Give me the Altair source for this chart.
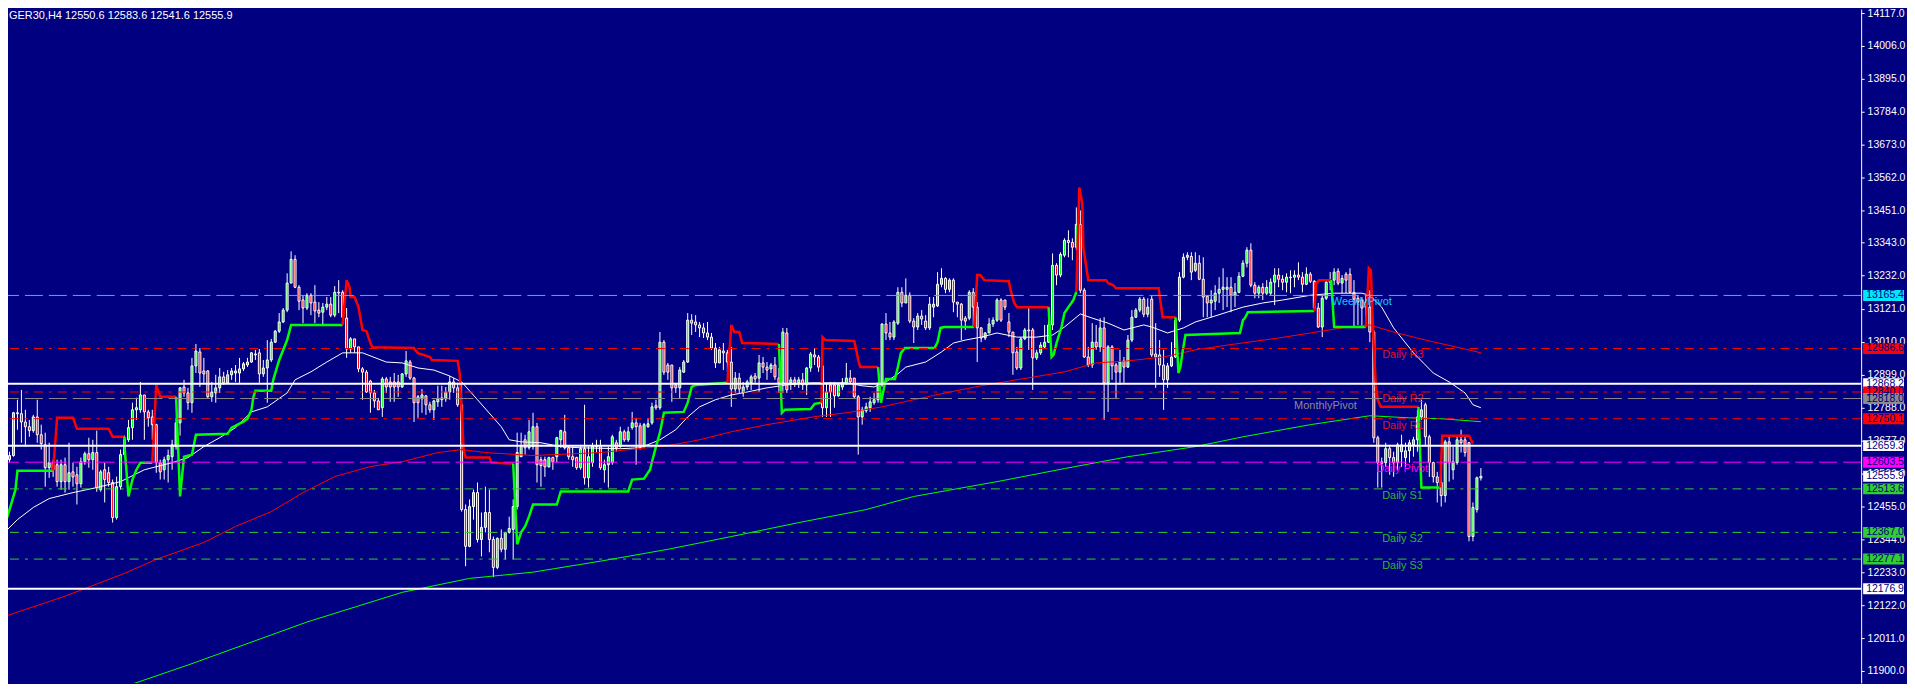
import altair as alt
import pandas as pd

# ---------------- data ----------------
symbol = "GER30"
timeframe = "H4"

opens = [
12585, 12612, 12626, 12767, 12767, 12739, 12723, 12710, 12756, 12696,
12662, 12585, 12602, 12595, 12538, 12595, 12538, 12571, 12561, 12531,
12605, 12632, 12612, 12636, 12511, 12578, 12568, 12535, 12417, 12521,
12629, 12679, 12720, 12780, 12780, 12830, 12773, 12756, 12730, 12602,
12578, 12612, 12622, 12656, 12736, 12857, 12837, 12804, 12928, 12975,
12911, 12911, 12824, 12837, 12854, 12891, 12871, 12898, 12904, 12904,
12918, 12931, 12941, 12968, 12972, 12901, 12921, 12948, 13008, 13045,
13076, 13116, 13207, 13287, 13193, 13150, 13123, 13166, 13143, 13116,
13109, 13126, 13136, 13099, 13176, 13176, 13089, 12985, 13019, 12992,
12918, 12907, 12877, 12837, 12810, 12787, 12884, 12874, 12874, 12874,
12857, 12901, 12941, 12887, 12824, 12817, 12827, 12797, 12780, 12807,
12814, 12817, 12840, 12874, 12854, 12797, 12444, 12320, 12454, 12501,
12343, 12384, 12434, 12343, 12249, 12347, 12310, 12367, 12377, 12454,
12622, 12679, 12652, 12656, 12723, 12612, 12612, 12588, 12619, 12622,
12679, 12706, 12652, 12622, 12619, 12585, 12649, 12551, 12602, 12656,
12656, 12578, 12595, 12602, 12669, 12656, 12706, 12679, 12720, 12736,
12726, 12656, 12723, 12736, 12794, 12787, 13008, 12931, 12931, 12864,
12854, 12907, 12941, 13082, 13076, 13066, 13056, 13039, 13025, 12988,
12938, 12978, 12972, 12941, 12850, 12887, 12837, 12857, 12871, 12894,
12887, 12938, 12924, 12918, 12931, 12887, 12871, 13039, 12871, 12881,
12871, 12881, 12864, 12921, 12965, 12958, 12928, 12787, 12864, 12864,
12827, 12857, 12871, 12887, 12887, 12824, 12756, 12777, 12787, 12804,
12814, 12864, 13069, 13039, 13025, 13072, 13176, 13140, 13166, 13079,
13059, 13096, 13079, 13056, 13126, 13130, 13203, 13223, 13186, 13217,
13143, 13136, 13089, 13089, 13176, 13126, 13056, 13022, 13039, 13069,
13082, 13150, 13150, 13076, 13042, 12975, 12921, 13019, 13049, 13049,
12955, 12972, 12992, 13008, 13066, 13267, 13234, 13301, 13351, 13344,
13328, 13405, 13183, 12958, 12931, 13008, 12992, 13056, 12871, 12992,
12931, 12907, 12945, 12924, 13015, 13092, 13116, 13153, 13102, 13153,
12968, 12965, 12931, 12881, 12928, 12958, 13082, 13227, 13294, 13297,
13250, 13274, 13220, 13163, 13140, 13146, 13173, 13186, 13186, 13193,
13166, 13176, 13230, 13274, 13318, 13200, 13173, 13193, 13173, 13173,
13210, 13234, 13220, 13210, 13227, 13227, 13234, 13227, 13203, 13237,
13213, 13123, 13059, 13156, 13210, 13217, 13247, 13207, 13237, 13237,
13176, 13156, 13150, 13143, 13126, 13042, 12686, 12605, 12602, 12649,
12619, 12602, 12639, 12619, 12642, 12662, 12679, 12756, 12797, 12689,
12602, 12554, 12535, 12491, 12672, 12578, 12602, 12679, 12679, 12669,
12353, 12444, 12550.6]

highs = [
12595, 12639, 12773, 12814, 12847, 12780, 12746, 12763, 12814, 12730,
12703, 12669, 12612, 12612, 12612, 12619, 12669, 12602, 12588, 12619,
12639, 12686, 12679, 12710, 12578, 12602, 12588, 12545, 12555, 12646,
12693, 12746, 12804, 12821, 12874, 12830, 12780, 12780, 12733, 12612,
12622, 12646, 12679, 12753, 12857, 12881, 12854, 12955, 13002, 12988,
12955, 12914, 12874, 12898, 12921, 12908, 12914, 12921, 12931, 12955,
12941, 12955, 12975, 12982, 12985, 12948, 13015, 13019, 13049, 13106,
13123, 13240, 13314, 13301, 13200, 13166, 13173, 13173, 13200, 13143,
13140, 13160, 13160, 13197, 13217, 13183, 13123, 13025, 13019, 12992,
12924, 12914, 12881, 12847, 12820, 12891, 12891, 12891, 12904, 12898,
12904, 12978, 12948, 12891, 12830, 12850, 12830, 12807, 12814, 12861,
12861, 12857, 12894, 12887, 12871, 12871, 12461, 12478, 12511, 12535,
12434, 12521, 12511, 12353, 12350, 12377, 12367, 12420, 12478, 12703,
12703, 12696, 12746, 12770, 12736, 12622, 12622, 12622, 12622, 12689,
12713, 12763, 12656, 12656, 12622, 12662, 12797, 12656, 12669, 12679,
12679, 12612, 12656, 12696, 12679, 12723, 12713, 12723, 12773, 12753,
12736, 12736, 12753, 12804, 12814, 13042, 13015, 12938, 12931, 12871,
12924, 12948, 13106, 13102, 13099, 13076, 13072, 13076, 13039, 13005,
12992, 13005, 12982, 12992, 12907, 12904, 12874, 12881, 12898, 12904,
12965, 12958, 12941, 12938, 12958, 12921, 13056, 13056, 12891, 12891,
12891, 12904, 12924, 12975, 12988, 12965, 12931, 12871, 12874, 12874,
12871, 12887, 12938, 12914, 12887, 12830, 12790, 12804, 12824, 12837,
12874, 13072, 13106, 13076, 13082, 13193, 13193, 13223, 13176, 13089,
13106, 13116, 13099, 13160, 13160, 13244, 13257, 13227, 13223, 13223,
13143, 13140, 13096, 13183, 13190, 13143, 13059, 13042, 13089, 13092,
13156, 13156, 13150, 13106, 13042, 12992, 13025, 13056, 13126, 13056,
12982, 13008, 13066, 13082, 13307, 13274, 13311, 13358, 13385, 13358,
13462, 13452, 13190, 12992, 13072, 13066, 13089, 13092, 12998, 12998,
12938, 12982, 12958, 13032, 13116, 13123, 13160, 13160, 13156, 13166,
13072, 13015, 12982, 12938, 13008, 13089, 13244, 13307, 13311, 13311,
13311, 13301, 13294, 13166, 13183, 13200, 13227, 13257, 13227, 13227,
13207, 13244, 13284, 13328, 13341, 13210, 13200, 13207, 13217, 13223,
13257, 13257, 13234, 13240, 13250, 13250, 13277, 13244, 13260, 13244,
13217, 13140, 13166, 13217, 13244, 13257, 13257, 13234, 13244, 13257,
13217, 13166, 13160, 13166, 13183, 13049, 12693, 12619, 12669, 12662,
12639, 12669, 12696, 12669, 12679, 12689, 12780, 12814, 12804, 12696,
12605, 12571, 12578, 12679, 12689, 12656, 12689, 12713, 12689, 12672,
12468, 12555, 12583.6]

lows = [
12561, 12602, 12622, 12713, 12669, 12656, 12689, 12703, 12669, 12646,
12521, 12551, 12554, 12521, 12511, 12501, 12511, 12521, 12461, 12518,
12595, 12585, 12578, 12504, 12504, 12468, 12521, 12400, 12410, 12511,
12622, 12672, 12679, 12746, 12770, 12679, 12723, 12679, 12568, 12545,
12545, 12535, 12578, 12646, 12693, 12824, 12780, 12770, 12904, 12857,
12871, 12820, 12807, 12804, 12837, 12864, 12867, 12881, 12874, 12871,
12911, 12924, 12938, 12948, 12871, 12891, 12804, 12941, 13005, 13039,
13072, 13109, 13207, 13190, 13116, 13072, 13116, 13099, 13072, 13092,
13062, 13116, 13092, 13092, 13106, 13089, 12955, 12972, 12972, 12907,
12814, 12837, 12770, 12787, 12780, 12756, 12837, 12807, 12807, 12824,
12854, 12891, 12881, 12739, 12753, 12770, 12763, 12770, 12746, 12790,
12790, 12807, 12814, 12837, 12790, 12437, 12253, 12317, 12410, 12333,
12286, 12367, 12300, 12216, 12243, 12300, 12276, 12363, 12276, 12444,
12622, 12629, 12646, 12646, 12535, 12521, 12554, 12585, 12578, 12602,
12652, 12646, 12612, 12588, 12578, 12578, 12528, 12518, 12588, 12636,
12578, 12535, 12518, 12595, 12639, 12652, 12672, 12672, 12713, 12595,
12646, 12652, 12720, 12730, 12780, 12780, 12898, 12881, 12807, 12837,
12820, 12904, 12938, 13032, 13042, 13025, 13022, 13015, 12982, 12921,
12938, 12914, 12907, 12790, 12837, 12837, 12824, 12847, 12847, 12871,
12840, 12904, 12881, 12904, 12881, 12837, 12837, 12837, 12847, 12857,
12854, 12847, 12830, 12908, 12931, 12908, 12756, 12756, 12756, 12787,
12824, 12847, 12864, 12871, 12820, 12629, 12730, 12770, 12773, 12797,
12804, 12857, 13015, 13015, 13015, 13066, 13126, 13140, 13072, 13005,
13049, 13066, 13049, 13049, 13092, 13126, 13193, 13173, 13176, 13109,
13092, 13015, 13049, 13082, 13059, 12941, 13008, 13015, 13039, 13059,
13076, 13076, 13116, 13025, 12898, 12914, 12914, 13015, 12982, 12847,
12948, 12965, 12988, 13005, 13049, 13200, 13227, 13294, 13294, 13284,
13318, 13173, 12955, 12924, 12921, 12982, 12975, 12746, 12773, 12881,
12820, 12864, 12871, 12921, 13008, 13089, 13109, 13092, 13092, 12958,
12854, 12891, 12780, 12854, 12924, 12955, 13076, 13223, 13284, 13217,
13244, 13217, 13092, 13092, 13092, 13116, 13140, 13116, 13126, 13109,
13126, 13173, 13227, 13260, 13193, 13156, 13156, 13150, 13166, 13166,
13133, 13193, 13183, 13176, 13173, 13193, 13217, 13176, 13200, 13207,
13116, 13056, 13025, 13150, 13183, 13200, 13200, 13173, 13173, 13173,
13059, 13066, 13059, 13082, 13008, 12669, 12518, 12518, 12588, 12561,
12554, 12578, 12588, 12588, 12602, 12622, 12639, 12746, 12656, 12554,
12535, 12468, 12454, 12468, 12538, 12545, 12595, 12636, 12622, 12337,
12337, 12434, 12541.6]

closes = [
12578, 12626, 12770, 12770, 12739, 12723, 12710, 12756, 12696, 12666,
12585, 12602, 12578, 12538, 12595, 12538, 12568, 12554, 12531, 12605,
12632, 12612, 12636, 12518, 12571, 12545, 12535, 12417, 12521, 12629,
12679, 12720, 12780, 12787, 12830, 12773, 12753, 12730, 12602, 12571,
12612, 12626, 12662, 12736, 12854, 12837, 12804, 12928, 12978, 12904,
12901, 12824, 12840, 12854, 12891, 12871, 12898, 12911, 12911, 12918,
12935, 12941, 12972, 12965, 12901, 12921, 12948, 13008, 13045, 13076,
13116, 13207, 13287, 13193, 13146, 13123, 13166, 13140, 13113, 13106,
13126, 13136, 13099, 13176, 13174, 13092, 12985, 13019, 12992, 12918,
12907, 12840, 12837, 12810, 12780, 12884, 12857, 12857, 12857, 12857,
12901, 12945, 12887, 12804, 12804, 12830, 12797, 12780, 12810, 12817,
12820, 12840, 12874, 12854, 12797, 12444, 12320, 12454, 12501, 12343,
12384, 12434, 12343, 12249, 12347, 12310, 12367, 12380, 12454, 12636,
12656, 12652, 12706, 12723, 12595, 12592, 12588, 12619, 12605, 12686,
12710, 12652, 12622, 12612, 12585, 12649, 12551, 12622, 12656, 12659,
12585, 12595, 12622, 12689, 12652, 12706, 12679, 12706, 12736, 12723,
12656, 12730, 12733, 12790, 12787, 13008, 12907, 12907, 12854, 12854,
12914, 12941, 13082, 13072, 13066, 13056, 13039, 13025, 12988, 12938,
12982, 12972, 12941, 12850, 12887, 12850, 12857, 12874, 12891, 12884,
12938, 12924, 12914, 12931, 12891, 12871, 13042, 12847, 12881, 12871,
12881, 12864, 12921, 12968, 12958, 12924, 12787, 12840, 12840, 12827,
12864, 12871, 12887, 12874, 12824, 12756, 12780, 12790, 12807, 12814,
12864, 13069, 13039, 13025, 13076, 13176, 13140, 13166, 13079, 13059,
13096, 13086, 13056, 13136, 13136, 13203, 13223, 13186, 13217, 13143,
13136, 13082, 13079, 13176, 13126, 13056, 13022, 13039, 13069, 13082,
13150, 13082, 13126, 13042, 12972, 12921, 13019, 13049, 13046, 12955,
12972, 12998, 13008, 13066, 13267, 13234, 13304, 13351, 13344, 13328,
13405, 13183, 12958, 12931, 13008, 12992, 13056, 12871, 12992, 12928,
12907, 12941, 12924, 13015, 13092, 13116, 13153, 13102, 13126, 12965,
12958, 12931, 12881, 12928, 12958, 13082, 13227, 13294, 13301, 13244,
13274, 13220, 13160, 13140, 13150, 13173, 13186, 13193, 13193, 13166,
13176, 13230, 13274, 13318, 13200, 13173, 13193, 13173, 13193, 13210,
13234, 13220, 13210, 13227, 13225, 13234, 13227, 13203, 13237, 13213,
13123, 13059, 13156, 13210, 13217, 13244, 13207, 13223, 13217, 13176,
13153, 13143, 13123, 13126, 13042, 12686, 12602, 12600, 12649, 12619,
12602, 12662, 12662, 12642, 12669, 12679, 12756, 12780, 12689, 12602,
12554, 12535, 12491, 12672, 12602, 12605, 12679, 12669, 12636, 12353,
12451, 12551, 12555.9]

# moving averages: (bar index, price)
ma_white_idx = [0, 3, 7, 11, 17, 23, 29, 35, 42, 46, 50, 54, 58, 62, 66, 71, 73, 77, 81, 85,
                90, 96, 100, 104, 108, 112, 115, 119, 125, 127, 130, 135, 140, 145, 155, 160,
                165, 169, 172, 175, 179, 183, 187, 192, 197, 203, 212, 216, 219, 222, 225, 227,
                232, 236, 239, 242, 246, 250, 255, 260, 264, 267, 271, 274, 278, 282, 287, 289,
                293, 297, 300, 304, 308, 312, 317, 322, 329, 335, 342, 344, 347, 350, 355, 360,
                364, 368, 370, 372]
ma_white_val = [12370, 12410, 12451, 12481, 12501, 12518, 12538, 12578, 12602, 12619, 12656,
                12686, 12720, 12773, 12790, 12837, 12881, 12908, 12941, 12972, 12972, 12941,
                12938, 12921, 12914, 12894, 12874, 12814, 12723, 12679, 12672, 12669, 12656,
                12652, 12649, 12652, 12679, 12713, 12756, 12790, 12814, 12830, 12840, 12854,
                12864, 12871, 12871, 12861, 12857, 12874, 12901, 12924, 12941, 12975, 13005,
                13015, 13025, 13039, 13025, 13025, 13032, 13059, 13103, 13089, 13072, 13049,
                13066, 13059, 13039, 13056, 13076, 13092, 13109, 13126, 13140, 13150, 13166,
                13173, 13173, 13166, 13126, 13056, 12972, 12904, 12874, 12837, 12797, 12787]

ma_red_idx = [0, 15, 30, 38, 50, 58, 67, 75, 83, 92, 100, 109, 115, 121, 133, 150, 167, 175,
              183, 192, 204, 212, 221, 229, 237, 246, 258, 267, 275, 283, 292, 300, 308, 321,
              329, 337, 344, 350, 358, 367, 372]
ma_red_val = [12085, 12152, 12229, 12276, 12333, 12387, 12437, 12501, 12555, 12589, 12605,
              12636, 12646, 12636, 12626, 12636, 12659, 12679, 12706, 12730, 12757, 12770,
              12790, 12814, 12837, 12861, 12888, 12908, 12938, 12945, 12958, 12982, 12998,
              13022, 13039, 13056, 13066, 13042, 13015, 12988, 12972]

ma_green_idx = [21, 46, 76, 100, 117, 133, 150, 167, 183, 200, 217, 229, 250, 267, 283, 300,
                312, 329, 344, 354, 362, 372]
ma_green_val = [11806, 11920, 12065, 12165, 12212, 12233, 12270, 12310, 12353, 12400, 12444,
                12488, 12538, 12582, 12622, 12656, 12689, 12730, 12760, 12753, 12750, 12740]

# trailing-stop step line: segments of (bar index, price); colour alternates
trend_colors = ["#00FF00", "#FF0000"]
trend_segments = [
    [(0, 12400), (1, 12444), (2.5, 12511), (3, 12575), (12, 12575)],
    [(12, 12575), (13, 12753), (17, 12753), (18, 12716), (26, 12716), (27, 12689), (30, 12689)],
    [(30, 12689), (30, 12656), (31, 12488), (32, 12545), (33, 12578), (34, 12602), (37, 12602)],
    [(37, 12602), (38, 12864), (39, 12824), (43, 12824)],
    [(43, 12824), (44, 12488), (45, 12622), (47, 12629), (48, 12696), (56, 12699), (57, 12720),
     (60, 12740), (61, 12750), (62, 12780), (62.5, 12824), (63, 12844), (67, 12844), (67.5, 12881),
     (69, 12948), (71, 13015), (72, 13066), (85, 13066)],
    [(85, 13066), (86, 13217), (86.75, 13193), (87, 13160), (88, 13160), (89, 13126), (90, 13049),
     (91, 13045), (92, 13005), (92.5, 12991), (103, 12988), (103.25, 12982), (104, 12971),
     (107, 12958), (107.5, 12948), (114, 12945), (114.5, 12904), (115.5, 12646), (116, 12619),
     (122, 12619), (122.5, 12602), (128, 12599)],
    [(128, 12599), (129, 12327), (130, 12367), (131, 12387), (132, 12421), (133, 12461),
     (139, 12461), (140, 12505), (157, 12505), (158, 12545), (161, 12548), (162.5, 12578),
     (163, 12605), (164, 12656), (165, 12703), (166, 12770), (171, 12773), (172, 12804),
     (173, 12857), (174, 12864), (182, 12871)],
    [(182, 12871), (183, 13066), (183.75, 13042), (185, 13042), (185.75, 13005), (195, 13002)],
    [(195, 13002), (195.75, 12770), (196.5, 12780), (203, 12783), (204, 12800), (205.75, 12804)],
    [(205.75, 12804), (206, 13025), (206.75, 13015), (214, 13012), (214.5, 12982), (215, 12948),
     (215.5, 12924), (220, 12924)],
    [(220, 12924), (220.75, 12804), (221.75, 12871), (222, 12884), (224.25, 12884), (225, 12924),
     (225.75, 12971), (226.75, 12988), (234.25, 12988), (235, 13008), (235.75, 13056),
     (236.75, 13059), (244.25, 13059)],
    [(244.25, 13059), (245, 13234), (245.75, 13234), (246.75, 13217), (253, 13213),
     (253.25, 13193), (254.25, 13143), (255, 13126), (263, 13126)],
    [(263, 13126), (263.75, 12958), (264.25, 12965), (265, 13005), (266.25, 13059), (267, 13106),
     (268, 13126), (268.75, 13140), (269.25, 13150), (270, 13177)],
    [(270, 13177), (270.75, 13529), (271.5, 13475), (271.75, 13328), (272.25, 13284),
     (273, 13217), (277.5, 13217), (278, 13207), (279.25, 13200), (280, 13190), (290.75, 13190),
     (291.25, 13140), (291.75, 13092), (295, 13092)],
    [(295, 13092), (295.75, 12904), (296.25, 12925), (296.75, 12972), (297.5, 13032),
     (311.25, 13039), (312, 13082), (312.5, 13089), (313.25, 13109), (330, 13113)],
    [(330, 13113), (330.5, 13207), (331.25, 13217), (334.25, 13217)],
    [(334.25, 13217), (335, 13059), (343, 13059)],
    [(343, 13059), (343.75, 13257), (344.25, 13250), (344.5, 13160), (345, 12992), (345.5, 12864),
     (346, 12814), (346.75, 12790), (356.25, 12790)],
    [(356.25, 12790), (357, 12518), (361.75, 12518)],
    [(361.75, 12518), (362.25, 12693), (369, 12693), (370, 12666)],
]

# horizontal levels
level_prices = [13165.4, 12986.6, 12868.2, 12840.0, 12818.0, 12750.1, 12659.3, 12603.5,
                12513.6, 12367.0, 12277.1, 12176.9]
level_names = ["WeeklyPivot", "Daily R3", "", "Daily R2", "MonthlyPivot", "Daily R1", "",
               "Daily Pivot", "Daily S1", "Daily S2", "Daily S3", ""]
level_styles = ["dash", "dashdot", "solid", "dashdot", "dash", "dashdot", "solid", "dash",
                "dashdot", "dashdot", "dashdot", "solid"]
level_colors = ["#14C8FF", "#FF0000", "#FFFFFF", "#FF0000", "#8C8C8C", "#FF0000", "#FFFFFF",
                "#FF00FF", "#32CD32", "#32CD32", "#32CD32", "#FFFFFF"]
label_idx = [334.4, 347.1, 0, 347.1, 324.9, 347.1, 0, 345.6, 347.1, 347.1, 347.1, 0]
label_colors = ["#14C8FF", "#E8101E", "", "#E8101E", "#8C8C8C", "#E8101E", "", "#FF00FF",
                "#2FB82F", "#2FB82F", "#2FB82F", ""]

# price tags on the right scale
tag_prices = [13165.4, 12986.6, 12868.2, 12840.0, 12818.0, 12750.1, 12659.3, 12603.5,
              12555.9, 12513.6, 12367.0, 12277.1, 12176.9]
tag_colors = ["#00E6FF", "#FF0000", "#FFFFFF", "#FF0000", "#8C8C8C", "#FF0000", "#FFFFFF",
              "#FF00FF", "#FFFFFF", "#32CD32", "#32CD32", "#32CD32", "#FFFFFF"]

tick_values = [14117, 14006, 13895, 13784, 13673, 13562, 13451, 13343, 13232, 13121, 13010,
               12899, 12788, 12677, 12566, 12455, 12344, 12233, 12122, 12011, 11900]

# ---------------- frames ----------------
n = min(len(opens), len(highs), len(lows), len(closes))
candles = pd.DataFrame({
    "idx": list(range(n)),
    "open": opens[:n], "high": highs[:n], "low": lows[:n], "close": closes[:n],
})
candles["col"] = ["#00FF00" if c >= o else "#FF0000" for o, c in zip(candles["open"], candles["close"])]

ma_rows = []
for name, col, ii, vv in [("white", "#FFFFFF", ma_white_idx, ma_white_val),
                          ("red", "#FF0000", ma_red_idx, ma_red_val),
                          ("green", "#00FF00", ma_green_idx, ma_green_val)]:
    for k, (a, b) in enumerate(zip(ii, vv)):
        ma_rows.append({"idx": a, "val": b, "name": name, "col": col, "ord": k})
ma_df = pd.DataFrame(ma_rows)

tr_rows = []
for s, seg in enumerate(trend_segments):
    col = trend_colors[s % 2]
    for k, (a, b) in enumerate(seg):
        tr_rows.append({"idx": a, "val": b, "seg": s, "col": col, "ord": k})
tr_df = pd.DataFrame(tr_rows)

lv_df = pd.DataFrame({"price": level_prices, "name": level_names, "style": level_styles,
                      "col": level_colors, "lidx": label_idx, "lcol": label_colors})
txt_df = lv_df[lv_df["name"] != ""]

tag_df = pd.DataFrame({"price": tag_prices, "col": tag_colors})
tag_df["label"] = [f"{p:.1f}" for p in tag_prices]

title_df = pd.DataFrame({"t": [f"{symbol},{timeframe}  {opens[n-1]:.1f} {highs[n-1]:.1f} "
                               f"{lows[n-1]:.1f} {closes[n-1]:.1f}"]})

# ---------------- chart ----------------
W, H = 1859, 676
xs = alt.Scale(domain=[1.875, 1.875 + W / 4], nice=False, zero=False)
ys = alt.Scale(domain=[11859.7, 14130.4], nice=False, zero=False)
yaxis = alt.Axis(orient="right", values=tick_values, format=".1f", labelColor="white",
                 labelFont="Liberation Sans", labelFontSize=10.5, tickColor="white", tickSize=3,
                 domainColor="white", domainWidth=1, labelPadding=3, grid=False, title=None,
                 labelOverlap=False, labelBound=False, labelFlush=False)

X = lambda f: alt.X(f, scale=xs, axis=None, title=None)
Y = lambda f: alt.Y(f, scale=ys, axis=yaxis, title=None)

wicks = alt.Chart(candles).mark_rule(color="white", strokeWidth=1, clip=True).encode(
    x=X("idx:Q"), y=Y("low:Q"), y2="high:Q")
bodies = alt.Chart(candles).mark_bar(width=2, stroke="white", strokeWidth=1, clip=True).encode(
    x=X("idx:Q"), y=Y("open:Q"), y2="close:Q", fill=alt.Fill("col:N", scale=None))

mas = alt.Chart(ma_df).mark_line(strokeWidth=1, clip=True).encode(
    x=X("idx:Q"), y=Y("val:Q"), detail="name:N", order="ord:Q",
    color=alt.Color("col:N", scale=None))
trend = alt.Chart(tr_df).mark_line(strokeWidth=2.5, clip=True, strokeJoin="miter").encode(
    x=X("idx:Q"), y=Y("val:Q"), detail="seg:N", order="ord:Q",
    color=alt.Color("col:N", scale=None))

dash_map = {"dash": [18, 6], "dashdot": [9, 6, 3, 6]}
level_layers = []
for style in ["dash", "dashdot"]:
    level_layers.append(
        alt.Chart(lv_df[lv_df["style"] == style]).mark_rule(strokeWidth=1, strokeDash=dash_map[style]).encode(
            y=Y("price:Q"), color=alt.Color("col:N", scale=None)))
level_layers.append(
    alt.Chart(lv_df[lv_df["style"] == "solid"]).mark_rule(strokeWidth=2).encode(
        y=Y("price:Q"), color=alt.Color("col:N", scale=None)))

labels = alt.Chart(txt_df).mark_text(align="left", baseline="middle", dy=7, fontSize=11,
                                     font="Liberation Sans").encode(
    x=X("lidx:Q"), y=Y("price:Q"), text="name:N", color=alt.Color("lcol:N", scale=None))

tags = alt.Chart(tag_df).mark_rule(strokeWidth=11, strokeCap="butt").encode(
    x=alt.value(W + 2), x2=alt.value(W + 43), y=Y("price:Q"),
    color=alt.Color("col:N", scale=None))
tag_text = alt.Chart(tag_df).mark_text(align="left", baseline="middle", fontSize=10.5,
                                       font="Liberation Sans", color="#000080").encode(
    x=alt.value(W + 5), y=Y("price:Q"), text="label:N")

title = alt.Chart(title_df).mark_text(align="left", baseline="top", fontSize=11,
                                      font="Liberation Sans", color="white").encode(
    x=alt.value(1), y=alt.value(1), text="t:N")

chart = alt.layer(wicks, bodies, mas, trend, *level_layers, labels, tags, tag_text, title).properties(
    width=W, height=H,
    autosize=alt.AutoSizeParams(type="none"),
    padding={"left": 0, "top": 0, "right": 46, "bottom": 0},
).configure(background="#000080").configure_view(fill="#000080", strokeWidth=0)

chart.save("out.html", embed_options={"renderer": "svg", "actions": False})
